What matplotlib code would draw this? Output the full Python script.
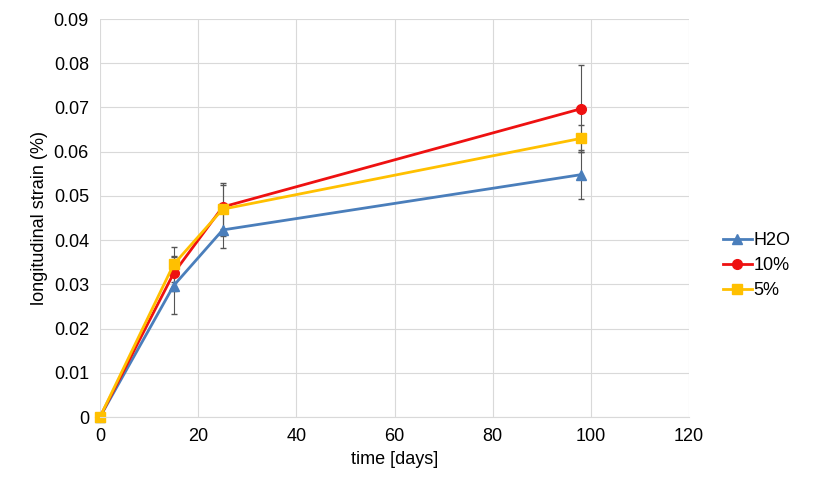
import matplotlib.pyplot as plt
from matplotlib.lines import Line2D
import numpy as np

days = [0, 15, 25, 98]
h2o = [0, 0.0297, 0.0423, 0.0548]
h2o_err = [0, 0.0065, 0.004, 0.0055]
pct10 = [0, 0.0325, 0.0475, 0.0697]
pct10_err = [0, 0.004, 0.005, 0.0098]
pct5 = [0, 0.0345, 0.047, 0.063]
pct5_err = [0, 0.004, 0.006, 0.003]

plt.rcParams['font.family'] = ['Liberation Sans', 'DejaVu Sans']
fig = plt.figure(figsize=(8.13, 4.86), dpi=100)
ax = fig.add_axes([100/813, 1-417/486, 589/813, 398/486])

series = [(h2o, h2o_err, '#4a7ebb', '^', 'H2O'),
          (pct10, pct10_err, '#ee1111', 'o', '10%'),
          (pct5, pct5_err, '#ffc000', 's', '5%')]
handles = []
for vals, err, col, mk, lab in series:
    ax.errorbar(days, vals, yerr=err, color=col, marker=mk, markersize=7, lw=2,
                ecolor='#555555', elinewidth=0.8, capsize=2, clip_on=False)
    handles.append(Line2D([], [], color=col, marker=mk, markersize=7, lw=2, label=lab))

ax.set_xlim(0, 120)
ax.set_ylim(0, 0.09)
ax.set_xticks(np.arange(0, 121, 20))
ax.set_yticks(np.arange(0, 0.091, 0.01))
ax.set_yticklabels(['0'] + [f'{v:.2f}' for v in np.arange(0.01, 0.091, 0.01)])
ax.grid(color='#d9d9d9', lw=0.8)
ax.set_axisbelow(True)
for s in ['top', 'right', 'left']:
    ax.spines[s].set_visible(False)
ax.spines['bottom'].set_color('#d9d9d9')
ax.tick_params(length=0, labelsize=13, pad=8)
ax.set_xlabel('time [days]', fontsize=13)
ax.set_ylabel('longitudinal strain (%)', fontsize=13)
ax.legend(handles=handles, loc='center left', bbox_to_anchor=(1.03, 0.38), frameon=False,
          fontsize=13, handlelength=1.6, handletextpad=0.1, labelspacing=0.45)
fig.savefig('out.png')
